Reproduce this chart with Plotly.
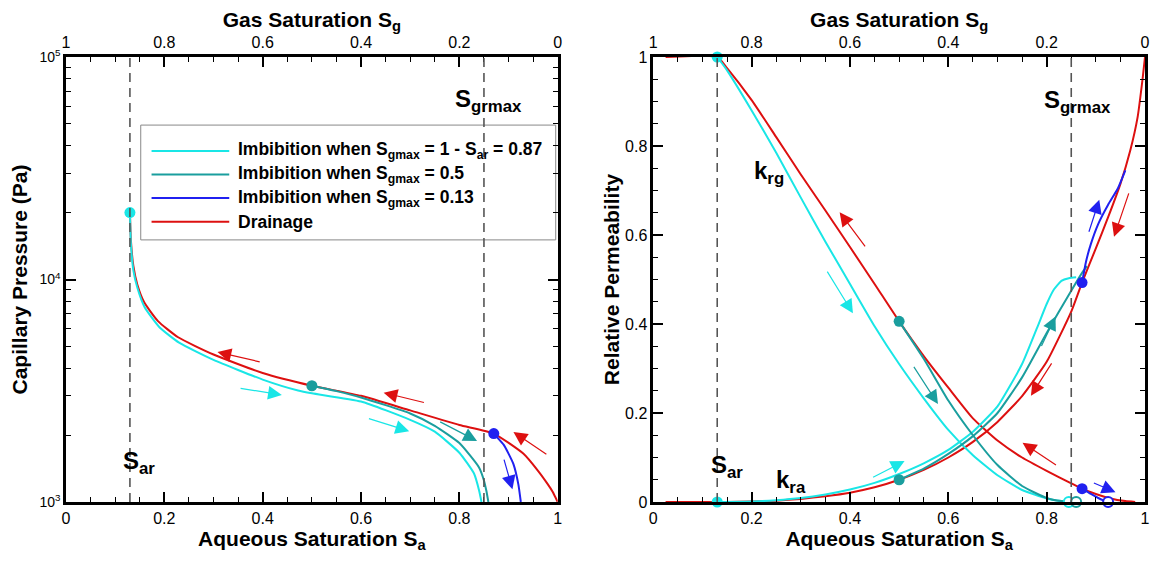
import plotly.graph_objects as go
import numpy as np

# ---- capillary pressure (left) ----
sa_pc_drain = [0.13, 0.132, 0.137, 0.145, 0.159, 0.187, 0.228, 0.3, 0.4, 0.5, 0.6, 0.7, 0.8, 0.87, 0.93, 0.96, 0.98, 0.99, 1.0]
pc_drain = [20000, 15000, 11500, 9500, 7900, 6500, 5500, 4600, 3800, 3330, 3000, 2580, 2220, 2030, 1650, 1380, 1200, 1110, 1000]

sa_pc_imb87 = [0.13, 0.132, 0.137, 0.145, 0.16, 0.19, 0.23, 0.3, 0.4, 0.472, 0.5, 0.6, 0.7, 0.75, 0.8, 0.83, 0.84, 0.845]
pc_imb87 = [20000, 14500, 11000, 9200, 7500, 6100, 5200, 4350, 3550, 3170, 3080, 2830, 2340, 2070, 1665, 1340, 1130, 1000]

sa_pc_imb50 = [0.5, 0.55, 0.6, 0.7, 0.75, 0.8, 0.84, 0.85, 0.855, 0.859]
pc_imb50 = [3330, 3150, 2950, 2500, 2200, 1840, 1430, 1250, 1120, 1000]

sa_pc_imb13 = [0.87, 0.88, 0.89, 0.9, 0.91, 0.92, 0.925]
pc_imb13 = [2030, 1920, 1810, 1650, 1480, 1200, 1000]

# turning points (Sa, Pc)
pc_turn_sa = [0.13, 0.5, 0.87]
pc_turn_pc = [20000, 3330, 2030]

# ---- relative permeability (right) ----
sa_krg_drain = [0.025, 0.13, 0.15, 0.2, 0.25, 0.3, 0.35, 0.4, 0.45, 0.5, 0.55, 0.6, 0.65, 0.7, 0.75, 0.8, 0.85, 0.872, 0.9, 0.93, 0.96, 0.98]
krg_drain = [1.0, 1.0, 0.975, 0.903, 0.82, 0.736, 0.655, 0.573, 0.49, 0.406, 0.328, 0.257, 0.188, 0.138, 0.1, 0.07, 0.042, 0.03, 0.018, 0.008, 0.002, 0.0]

sa_krg_imb87 = [0.13, 0.15, 0.2, 0.25, 0.3, 0.35, 0.4, 0.45, 0.5, 0.55, 0.6, 0.65, 0.7, 0.75, 0.8, 0.83, 0.845]
krg_imb87 = [1.0, 0.97, 0.88, 0.785, 0.684, 0.585, 0.49, 0.395, 0.31, 0.233, 0.162, 0.105, 0.06, 0.027, 0.008, 0.002, 0.0]

sa_krg_imb50 = [0.5, 0.55, 0.6, 0.65, 0.7, 0.75, 0.8, 0.83, 0.86]
krg_imb50 = [0.406, 0.322, 0.228, 0.15, 0.083, 0.036, 0.009, 0.002, 0.0]

sa_krg_imb13 = [0.872, 0.89, 0.905, 0.915, 0.925]
krg_imb13 = [0.03, 0.018, 0.009, 0.004, 0.0]

sa_kra_drain = [0.025, 0.15, 0.2, 0.25, 0.3, 0.35, 0.4, 0.45, 0.5, 0.55, 0.6, 0.65, 0.7, 0.75, 0.8, 0.85, 0.872, 0.9, 0.925, 0.95, 0.97, 0.985, 0.995, 1.0]
kra_drain = [0.0, 0.0, 0.001, 0.003, 0.007, 0.013, 0.021, 0.033, 0.05, 0.072, 0.1, 0.135, 0.18, 0.238, 0.315, 0.428, 0.493, 0.57, 0.64, 0.715, 0.79, 0.865, 0.95, 1.0]

sa_kra_imb87 = [0.13, 0.2, 0.25, 0.3, 0.35, 0.4, 0.45, 0.5, 0.55, 0.6, 0.65, 0.7, 0.75, 0.78, 0.8, 0.815, 0.83, 0.845, 0.86]
kra_imb87 = [0.0, 0.001, 0.004, 0.009, 0.017, 0.028, 0.043, 0.063, 0.087, 0.117, 0.158, 0.215, 0.31, 0.39, 0.445, 0.478, 0.497, 0.503, 0.505]

sa_kra_imb50 = [0.5, 0.55, 0.6, 0.65, 0.7, 0.75, 0.8, 0.85, 0.872, 0.882]
kra_imb50 = [0.05, 0.075, 0.108, 0.148, 0.2, 0.28, 0.38, 0.475, 0.515, 0.53]

sa_kra_imb13 = [0.872, 0.88, 0.89, 0.905, 0.925, 0.945, 0.96]
kra_imb13 = [0.493, 0.54, 0.58, 0.625, 0.668, 0.705, 0.745]

# turning points and end points
krg_turn_sa = [0.13, 0.5, 0.872]
krg_turn_kr = [1.0, 0.406, 0.03]
kra_turn_sa = [0.13, 0.5, 0.872]
kra_turn_kr = [0.0, 0.05, 0.493]
krg_end_sa = [0.845, 0.86, 0.925]
krg_end_kr = [0.0, 0.0, 0.0]

s_ar = 0.13
s_grmax_line = 0.85

CYAN = "#19E6E6"
TEAL = "#1A9E9E"
BLUE = "#2020F0"
RED = "#DD1010"
colors3 = [CYAN, TEAL, BLUE]

# arrows: (head_x, head_y, tail_x, tail_y, colour)
pc_arrows = [
    (0.308, 4720, 0.397, 4250, RED),
    (0.646, 3100, 0.731, 2790, RED),
    (0.91, 2065, 0.98, 1620, RED),
    (0.439, 3030, 0.352, 3250, CYAN),
    (0.698, 2080, 0.613, 2380, CYAN),
    (0.836, 1880, 0.758, 2310, TEAL),
    (0.908, 1140, 0.89, 1575, BLUE),
]
kr_arrows = [
    (0.379, 0.651, 0.433, 0.571, RED),
    (0.751, 0.133, 0.822, 0.081, RED),
    (0.768, 0.239, 0.812, 0.315, RED),
    (0.937, 0.596, 0.968, 0.697, RED),
    (0.406, 0.424, 0.352, 0.521, CYAN),
    (0.511, 0.092, 0.444, 0.054, CYAN),
    (0.579, 0.22, 0.528, 0.307, TEAL),
    (0.818, 0.417, 0.788, 0.347, TEAL),
    (0.94, 0.022, 0.893, 0.044, BLUE),
    (0.907, 0.679, 0.885, 0.604, BLUE),
]

legend_names = [
    "Imbibition when S<sub>gmax</sub> = 1 - S<sub>ar</sub> = 0.87",
    "Imbibition when S<sub>gmax</sub> = 0.5",
    "Imbibition when S<sub>gmax</sub> = 0.13",
    "Drainage",
]
legend_colors = [CYAN, TEAL, BLUE, RED]

FONT = "Liberation Sans, Arial, sans-serif"

fig = go.Figure()

def line(x, y, c, xa, ya):
    fig.add_trace(go.Scatter(x=x, y=y, mode="lines", line=dict(color=c, width=2, shape="spline", smoothing=0.5),
                             xaxis=xa, yaxis=ya, showlegend=False, hoverinfo="skip"))

# left panel curves
line(sa_pc_drain, pc_drain, RED, "x", "y")
line(sa_pc_imb87, pc_imb87, CYAN, "x", "y")
line(sa_pc_imb50, pc_imb50, TEAL, "x", "y")
line(sa_pc_imb13, pc_imb13, BLUE, "x", "y")
fig.add_trace(go.Scatter(x=pc_turn_sa, y=pc_turn_pc, mode="markers", marker=dict(color=colors3, size=11),
                         xaxis="x", yaxis="y", showlegend=False, hoverinfo="skip"))

# right panel curves
for sx, ky, c in [(sa_krg_drain, krg_drain, RED), (sa_kra_drain, kra_drain, RED),
                  (sa_krg_imb87, krg_imb87, CYAN), (sa_kra_imb87, kra_imb87, CYAN),
                  (sa_krg_imb50, krg_imb50, TEAL), (sa_kra_imb50, kra_imb50, TEAL),
                  (sa_krg_imb13, krg_imb13, BLUE), (sa_kra_imb13, kra_imb13, BLUE)]:
    line(sx, ky, c, "x2", "y2")
fig.add_trace(go.Scatter(x=krg_end_sa, y=krg_end_kr, mode="markers",
                         marker=dict(color="white", size=10, line=dict(color=colors3, width=2)),
                         xaxis="x2", yaxis="y2", showlegend=False, hoverinfo="skip", cliponaxis=False))
fig.add_trace(go.Scatter(x=krg_turn_sa + kra_turn_sa, y=krg_turn_kr + kra_turn_kr, mode="markers",
                         marker=dict(color=colors3 + colors3, size=11),
                         xaxis="x2", yaxis="y2", showlegend=False, hoverinfo="skip", cliponaxis=False))

# invisible traces so the gas-saturation top axes get drawn
fig.add_trace(go.Scatter(x=[1, 0], y=[1000, 1000], mode="lines", opacity=0, xaxis="x3", yaxis="y",
                         showlegend=False, hoverinfo="skip"))
fig.add_trace(go.Scatter(x=[1, 0], y=[0, 0], mode="lines", opacity=0, xaxis="x4", yaxis="y2",
                         showlegend=False, hoverinfo="skip"))

annotations = []
for hx, hy, tx, ty, c in pc_arrows:
    annotations.append(dict(x=hx, y=np.log10(hy), ax=tx, ay=np.log10(ty), xref="x", yref="y", axref="x", ayref="y",
                            showarrow=True, arrowhead=2, arrowsize=2.3, arrowwidth=1.2, arrowcolor=c, text=""))
for hx, hy, tx, ty, c in kr_arrows:
    annotations.append(dict(x=hx, y=hy, ax=tx, ay=ty, xref="x2", yref="y2", axref="x2", ayref="y2",
                            showarrow=True, arrowhead=2, arrowsize=2.3, arrowwidth=1.2, arrowcolor=c, text=""))

lab = dict(showarrow=False, font=dict(family=FONT, size=24, color="black"), xanchor="left", yanchor="middle")
annotations += [
    dict(x=0.112, y=np.log10(1500), xref="x", yref="y", text="<b>S<sub>ar</sub></b>", **lab),
    dict(x=0.787, y=np.log10(64000), xref="x", yref="y", text="<b>S<sub>grmax</sub></b>", **lab),
    dict(x=0.113, y=0.08, xref="x2", yref="y2", text="<b>S<sub>ar</sub></b>", **lab),
    dict(x=0.79, y=0.9, xref="x2", yref="y2", text="<b>S<sub>grmax</sub></b>", **lab),
    dict(x=0.2, y=0.74, xref="x2", yref="y2", text="<b>k<sub>rg</sub></b>", **lab),
    dict(x=0.245, y=0.045, xref="x2", yref="y2", text="<b>k<sub>ra</sub></b>", **lab),
]

dash_line = dict(color="#555555", width=1.6, dash="9px,6px")
shapes = [
    dict(type="line", xref="x", yref="y domain", x0=s_ar, x1=s_ar, y0=0, y1=1, line=dash_line),
    dict(type="line", xref="x", yref="y domain", x0=s_grmax_line, x1=s_grmax_line, y0=0, y1=1, line=dash_line),
    dict(type="line", xref="x2", yref="y2 domain", x0=s_ar, x1=s_ar, y0=0, y1=1, line=dash_line),
    dict(type="line", xref="x2", yref="y2 domain", x0=s_grmax_line, x1=s_grmax_line, y0=0, y1=1, line=dash_line),
    # legend box
    dict(type="rect", xref="x domain", yref="y domain", x0=0.152, x1=0.996, y0=0.589, y1=0.847,
         line=dict(color="#888888", width=1), fillcolor="white", layer="below"),
]
legend_rows = [0.789, 0.736, 0.683, 0.630]
for yy, name, c in zip(legend_rows, legend_names, legend_colors):
    shapes.append(dict(type="line", xref="x domain", yref="y domain", x0=0.174, x1=0.332, y0=yy, y1=yy,
                       line=dict(color=c, width=2)))
    annotations.append(dict(x=0.346, y=yy, xref="x domain", yref="y domain", text="<b>" + name + "</b>",
                            showarrow=False, xanchor="left", yanchor="middle",
                            font=dict(family=FONT, size=17.5, color="black")))

tickfont = dict(family=FONT, size=16, color="black")
titlefont = dict(family=FONT, size=21, color="black")
common = dict(showline=True, linecolor="black", linewidth=2.5, ticks="inside", ticklen=10, tickwidth=2,
              tickcolor="black", showgrid=False, zeroline=False, tickfont=tickfont)
lin_minor = dict(ticks="inside", ticklen=5, tickwidth=1, tickcolor="black", dtick=0.05, showgrid=False)

log_minor_vals = [m * 10 ** e for e in (3, 4) for m in range(2, 10)]

# page body adds an 8px offset, so the figure is 8px smaller than the window
fig.update_layout(
    width=1151, height=553,
    margin=dict(l=58, r=9, t=49, b=59),
    paper_bgcolor="white", plot_bgcolor="white",
    showlegend=False,
    xaxis=dict(domain=[0, 0.4557], range=[0, 1], dtick=0.2, mirror=True, anchor="y",
               title=dict(text="<b>Aqueous Saturation S<sub>a</sub></b>", font=titlefont, standoff=4),
               minor=lin_minor, **common),
    yaxis=dict(domain=[0, 1], type="log", range=[3, 5], anchor="x", mirror="ticks",
               tickvals=[1000, 10000, 100000], ticktext=["10<sup>3</sup>", "10<sup>4</sup>", "10<sup>5</sup>"],
               title=dict(text="<b>Capillary Pressure (Pa)</b>", font=titlefont, standoff=8),
               minor=dict(ticks="inside", ticklen=5, tickwidth=1, tickcolor="black", tickvals=log_minor_vals),
               **{**common, "tickfont": dict(family=FONT, size=14, color="black")}),
    xaxis3=dict(overlaying="x", side="top", anchor="y", range=[1, 0], autorange=False, dtick=0.2,
                title=dict(text="<b>Gas Saturation S<sub>g</sub></b>", font=titlefont, standoff=2),
                minor=lin_minor, **common),
    xaxis2=dict(domain=[0.5443, 1], range=[0, 1], dtick=0.2, mirror=True, anchor="y2",
                title=dict(text="<b>Aqueous Saturation S<sub>a</sub></b>", font=titlefont, standoff=4),
                minor=lin_minor, **common),
    yaxis2=dict(domain=[0, 1], range=[0, 1], dtick=0.2, anchor="x2", mirror="ticks",
                title=dict(text="<b>Relative Permeability</b>", font=titlefont, standoff=0),
                minor=lin_minor, **common),
    xaxis4=dict(overlaying="x2", side="top", anchor="y2", range=[1, 0], autorange=False, dtick=0.2,
                title=dict(text="<b>Gas Saturation S<sub>g</sub></b>", font=titlefont, standoff=2),
                minor=lin_minor, **common),
    annotations=annotations,
    shapes=shapes,
)

fig.write_html("out.html")
